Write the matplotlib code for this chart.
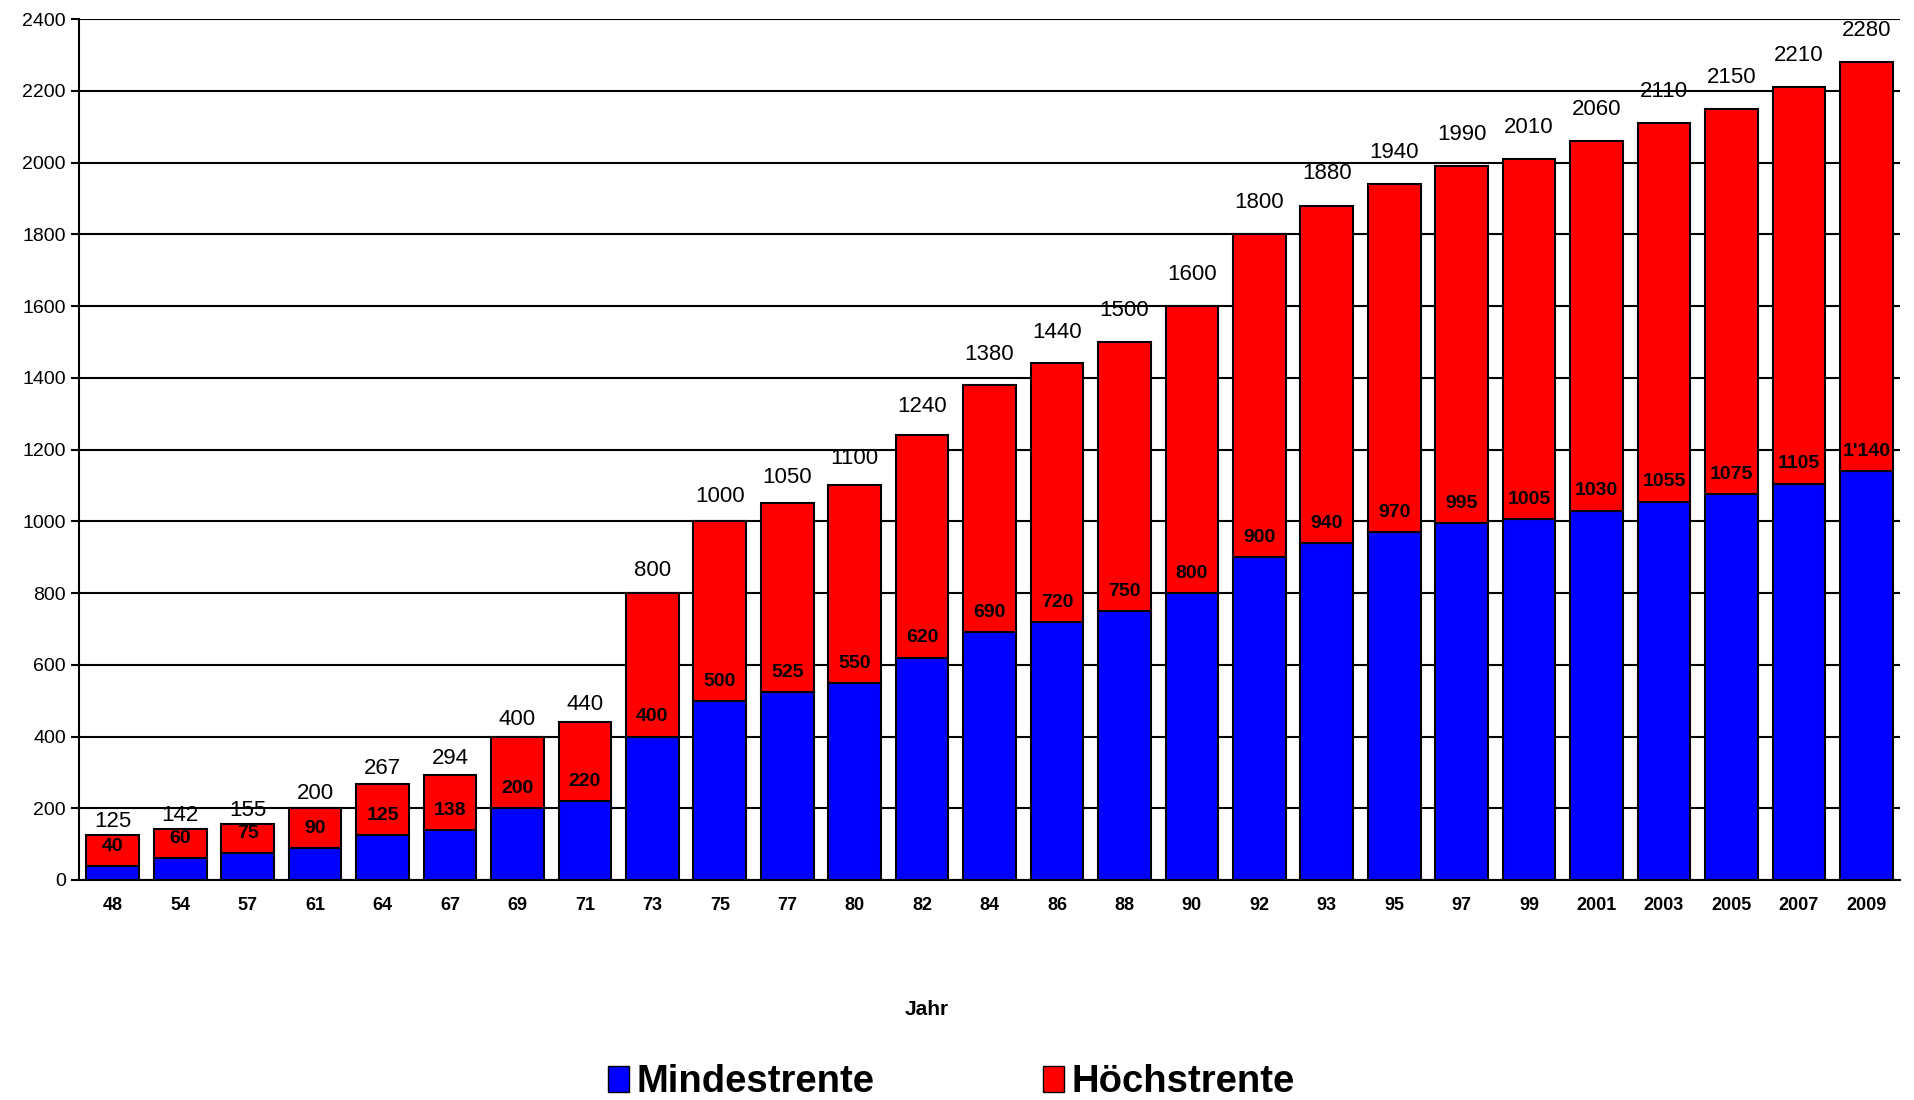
import matplotlib.pyplot as plt
from matplotlib.patches import Patch

# Jahr labels and values (CHF / month)
jahre = ['48', '54', '57', '61', '64', '67', '69', '71', '73', '75', '77', '80',
         '82', '84', '86', '88', '90', '92', '93', '95', '97', '99',
         '2001', '2003', '2005', '2007', '2009']
mindestrente = [40, 60, 75, 90, 125, 138, 200, 220, 400, 500, 525, 550, 620,
                690, 720, 750, 800, 900, 940, 970, 995, 1005, 1030, 1055,
                1075, 1105, 1140]
hoechstrente = [125, 142, 155, 200, 267, 294, 400, 440, 800, 1000, 1050, 1100,
                1240, 1380, 1440, 1500, 1600, 1800, 1880, 1940, 1990, 2010,
                2060, 2110, 2150, 2210, 2280]
min_labels = [str(v) for v in mindestrente[:-1]] + ["1'140"]

plt.rcParams['font.family'] = ['Liberation Sans', 'DejaVu Sans']

fig = plt.figure(figsize=(19.14, 11), dpi=100)
ax = fig.add_axes([0.0413, 0.2, 0.9514, 0.7827])

x = list(range(len(jahre)))
diff = [h - m for h, m in zip(hoechstrente, mindestrente)]
w = 0.78
ax.bar(x, mindestrente, width=w, color='#0000ff', edgecolor='black',
       linewidth=1.5, zorder=3)
ax.bar(x, diff, width=w, bottom=mindestrente, color='#ff0000',
       edgecolor='black', linewidth=1.5, zorder=3)

for i in x:
    # the total labels drift a bit higher above the taller bars
    off = 1 + min(hoechstrente[i], 1500) * 0.0095
    ax.annotate(str(hoechstrente[i]), (i, hoechstrente[i]), xytext=(0, off),
                textcoords='offset points', ha='center', va='bottom',
                fontsize=16, zorder=4)
    ax.annotate(min_labels[i], (i, mindestrente[i]), xytext=(0, 8),
                textcoords='offset points', ha='center', va='bottom',
                fontsize=14, fontweight='bold', zorder=4)

ax.set_xlim(-0.5, len(jahre) - 0.5)
ax.set_ylim(0, 2400)
ax.set_yticks(range(0, 2401, 200))
ax.yaxis.grid(True, color='black', linewidth=1.5, zorder=0)
ax.set_axisbelow(True)
ax.set_xticks(x)
ax.set_xticklabels(jahre, fontsize=13, fontweight='bold')
ax.tick_params(axis='x', length=0, pad=12)
ax.tick_params(axis='y', labelsize=14, length=6, width=1.5, direction='out')
for s in ['top', 'right']:
    ax.spines[s].set_visible(False)
ax.spines['left'].set_linewidth(1.5)
ax.spines['bottom'].set_linewidth(1.5)

fig.text(0.484, 0.082, 'Jahr', ha='center', va='center', fontsize=15,
         fontweight='bold')

handles = [Patch(facecolor='#0000ff', edgecolor='black', label='Mindestrente'),
           Patch(facecolor='#ff0000', edgecolor='black', label='Höchstrente')]
fig.legend(handles=handles, loc='center', bbox_to_anchor=(0.497, 0.016),
           ncol=2, frameon=False, prop={'size': 27.5, 'weight': 'bold'},
           handlelength=0.55, handleheight=0.65, handletextpad=0.2,
           columnspacing=4.4)

fig.savefig('out.png', dpi=100, facecolor='white')
